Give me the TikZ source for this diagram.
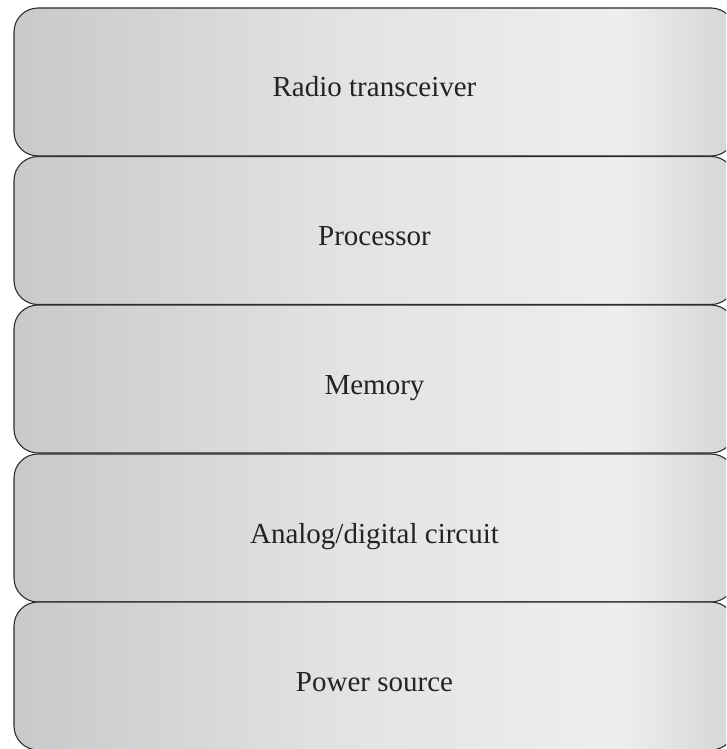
\documentclass[tikz,border=0pt]{standalone}
\usepackage{fontspec}
\setmainfont{Liberation Serif}
\definecolor{lyrL}{RGB}{200,201,202}
\definecolor{lyrM}{RGB}{226,227,227}
\definecolor{lyrH}{RGB}{238,238,238}
\definecolor{lyrR}{RGB}{212,213,214}
\definecolor{lyrLine}{RGB}{45,45,45}
\definecolor{lyrText}{RGB}{35,35,35}
% left-to-right grey band used for every layer
\pgfdeclarehorizontalshading{layershade}{100bp}{%
  color(0bp)=(lyrL); color(25bp)=(lyrL); color(48bp)=(lyrM);
  color(67bp)=(lyrH); color(75bp)=(lyrR); color(100bp)=(lyrR)}
\begin{document}
\begin{tikzpicture}[x=1pt,y=-1pt,
  layer/.style={draw=lyrLine, line width=1.1pt, rounded corners=24pt,
    shading=layershade, minimum width=721pt, minimum height=148pt,
    inner sep=0pt, text=lyrText, text height=30pt, text depth=0pt,
    font=\fontsize{29}{34}\selectfont}]
\useasboundingbox (0,0) rectangle (726,749);
\clip (0,0) rectangle (726,749);
\node[layer] (radio)  at (374.5,82)    {Radio transceiver};
\node[layer] (cpu)    at (374.5,230.5) {Processor};
\node[layer] (mem)    at (374.5,379)   {Memory};
\node[layer] (adc)    at (374.5,528)   {Analog/digital circuit};
\node[layer] (power)  at (374.5,676)   {Power source};
\end{tikzpicture}
\end{document}
